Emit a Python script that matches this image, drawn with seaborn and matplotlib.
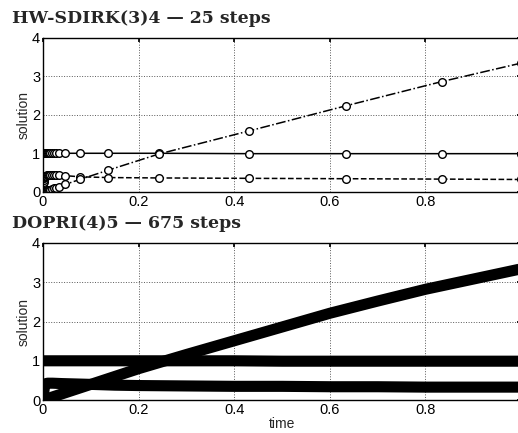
import seaborn as sns
import matplotlib.pyplot as plt

# HW-SDIRK(3)4 step points (25 steps)
t_sdirk = [0, 0.0002, 0.0005, 0.001, 0.0015, 0.002, 0.003, 0.004, 0.005, 0.006,
           0.008, 0.010, 0.012, 0.015, 0.018, 0.022, 0.027, 0.033, 0.046, 0.077,
           0.136, 0.242, 0.431, 0.633, 0.834, 1.0]
y1_sdirk = [1.0, 1.0, 1.0, 1.0, 1.0, 1.0, 1.0, 1.0, 1.0, 1.0,
            1.0, 1.0, 1.0, 1.0, 1.0, 1.0, 1.0, 1.0, 1.0, 1.0,
            1.0, 1.0, 0.99, 0.99, 0.99, 0.99]
y2_sdirk = [0, 0.05, 0.12, 0.20, 0.26, 0.30, 0.36, 0.39, 0.41, 0.42,
            0.43, 0.44, 0.44, 0.44, 0.44, 0.44, 0.43, 0.43, 0.42, 0.39,
            0.37, 0.36, 0.35, 0.34, 0.33, 0.32]
y3_sdirk = [0, 0.001, 0.002, 0.004, 0.006, 0.008, 0.012, 0.016, 0.02, 0.024,
            0.032, 0.04, 0.048, 0.06, 0.072, 0.088, 0.108, 0.132, 0.19, 0.32,
            0.56, 0.98, 1.58, 2.23, 2.86, 3.34]

# DOPRI(4)5 solution
t_dopri = [0, 0.001, 0.003, 0.006, 0.01, 0.02, 0.04, 0.07, 0.1, 0.15, 0.2,
           0.3, 0.4, 0.5, 0.6, 0.7, 0.8, 0.9, 1.0]
y1_dopri = [1.0, 1.0, 1.0, 1.0, 1.0, 1.0, 1.0, 1.0, 1.0, 1.0, 1.0,
            1.0, 1.0, 0.99, 0.99, 0.99, 0.99, 0.99, 0.99]
y2_dopri = [0, 0.15, 0.33, 0.42, 0.43, 0.43, 0.42, 0.41, 0.40, 0.38, 0.37,
            0.36, 0.35, 0.35, 0.34, 0.34, 0.33, 0.33, 0.33]
y3_dopri = [0, 0.004, 0.012, 0.024, 0.04, 0.08, 0.16, 0.28, 0.40, 0.60, 0.80,
            1.16, 1.51, 1.86, 2.21, 2.52, 2.82, 3.08, 3.34]

titles = ["HW-SDIRK(3)4 \u2014 25 steps", "DOPRI(4)5 \u2014 675 steps"]
x_ticks = [0, 0.2, 0.4, 0.6, 0.8, 1]
x_labels = ["0", "0.2", "0.4", "0.6", "0.8", ""]
y_ticks = [0, 1, 2, 3, 4]

sns.set_theme(style="white")
plt.rcParams["font.family"] = ["Liberation Sans", "DejaVu Sans"]

fig = plt.figure(figsize=(5.18, 4.33), dpi=100)
ax1 = fig.add_axes([0.083, 0.557, 0.923, 0.356])
ax2 = fig.add_axes([0.083, 0.076, 0.923, 0.363])

mk = dict(marker="o", markersize=5.5, markerfacecolor="white",
          markeredgecolor="black", markeredgewidth=1.0)

# top: thin lines with open circles at each step
sns.lineplot(x=t_sdirk, y=y1_sdirk, ax=ax1, color="black", lw=1.1,
             linestyle="-", sort=False, estimator=None, **mk)
sns.lineplot(x=t_sdirk, y=y2_sdirk, ax=ax1, color="black", lw=1.1,
             linestyle="--", sort=False, estimator=None, **mk)
sns.lineplot(x=t_sdirk, y=y3_sdirk, ax=ax1, color="black", lw=1.1,
             linestyle="-.", sort=False, estimator=None, **mk)

# bottom: markers merge into thick bands
for yy in (y1_dopri, y2_dopri, y3_dopri):
    sns.lineplot(x=t_dopri, y=yy, ax=ax2, color="black", lw=8,
                 sort=False, estimator=None, solid_capstyle="butt")

for ax in (ax1, ax2):
    ax.set_xlim(0, 1)
    ax.set_ylim(0, 4)
    ax.set_xticks(x_ticks)
    ax.set_yticks(y_ticks)
    ax.set_xticklabels(x_labels)
    ax.set_yticklabels([str(v) for v in y_ticks])
    ax.grid(True, linestyle=":", color="0.35", linewidth=0.7)
    ax.tick_params(direction="in", top=True, right=True, length=3,
                   labelsize=10.5, colors="black", pad=2)
    for s in ax.spines.values():
        s.set_color("black")
        s.set_linewidth(1.0)
    ax.set_ylabel("solution", fontsize=10, labelpad=1)
    ax.set_xlabel("")

ax2.set_xlabel("time", fontsize=10, labelpad=0)

fig.text(12 / 518, 1 - 23 / 433, titles[0], family="DejaVu Serif",
         fontsize=12.5, fontweight="bold", va="baseline", ha="left")
fig.text(12 / 518, 1 - 228 / 433, titles[1], family="DejaVu Serif",
         fontsize=12.5, fontweight="bold", va="baseline", ha="left")

fig.savefig("out.png", dpi=100)
